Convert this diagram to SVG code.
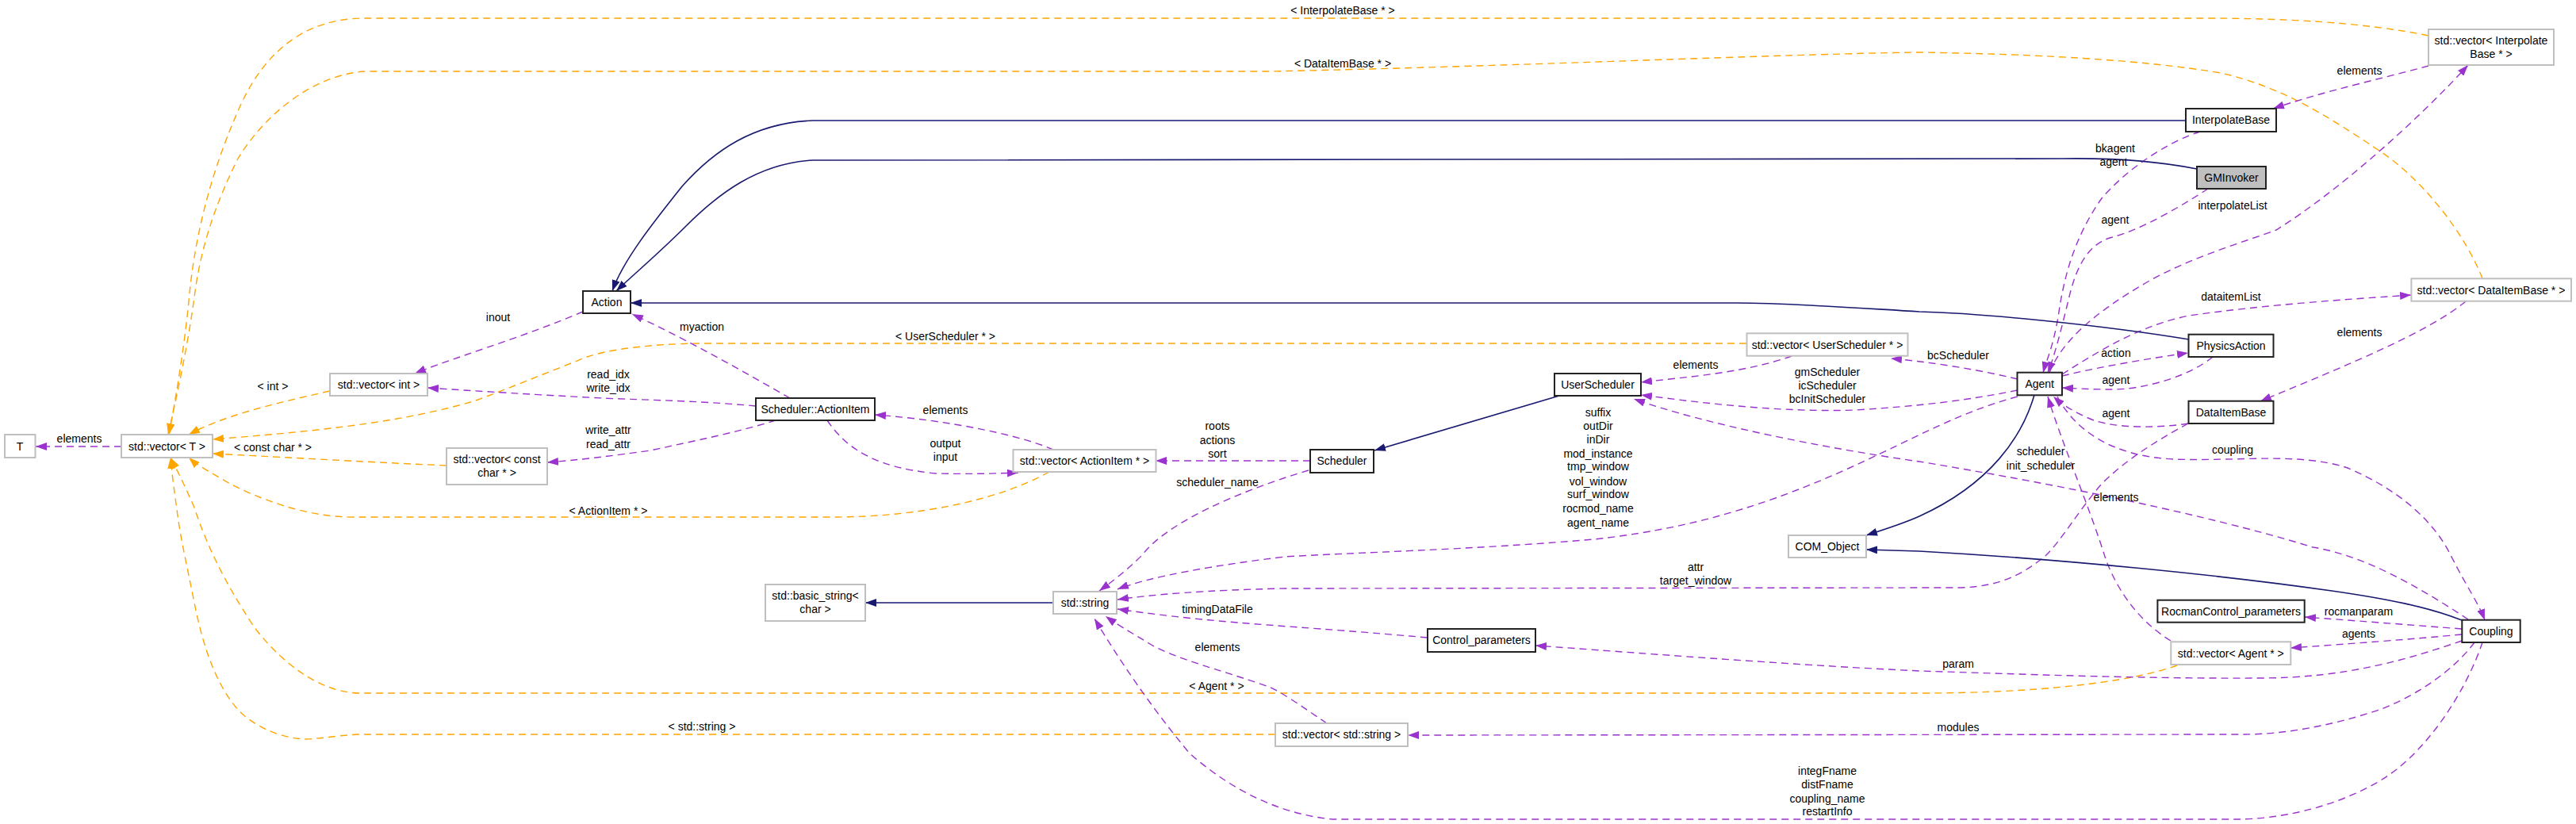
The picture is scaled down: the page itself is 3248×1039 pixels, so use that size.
<svg xmlns="http://www.w3.org/2000/svg" width="3248" height="1039" viewBox="0 0 3248 1039">
<style>
text{font-family:"Liberation Sans",Arial,sans-serif;font-size:14px;fill:#000;text-anchor:middle}
.n rect{fill:#fff;stroke:#222;stroke-width:2}
.u rect{fill:#fff;stroke:#bfbfbf;stroke-width:2}
.g rect{fill:#bfbfbf;stroke:#222;stroke-width:2}
.mem{fill:none;stroke:#9a32cd;stroke-width:1.4;stroke-dasharray:9,6;marker-end:url(#ap)}
.tpl{fill:none;stroke:#ffa500;stroke-width:1.4;stroke-dasharray:9,6;marker-end:url(#ao)}
.inh{fill:none;stroke:#191970;stroke-width:1.6;marker-end:url(#an)}
</style>
<defs>
<marker id="ap" viewBox="0 0 14 10" refX="14" refY="5" markerWidth="14" markerHeight="10" markerUnits="userSpaceOnUse" orient="auto"><path d="M0,0 L14,5 L0,10 z" fill="#9a32cd" stroke="none"/></marker>
<marker id="ao" viewBox="0 0 14 10" refX="14" refY="5" markerWidth="14" markerHeight="10" markerUnits="userSpaceOnUse" orient="auto"><path d="M0,0 L14,5 L0,10 z" fill="#ffa500" stroke="none"/></marker>
<marker id="an" viewBox="0 0 14 10" refX="14" refY="5" markerWidth="14" markerHeight="10" markerUnits="userSpaceOnUse" orient="auto"><path d="M0,0 L14,5 L0,10 z" fill="#191970" stroke="none"/></marker>
</defs>
<rect width="3248" height="1039" fill="#fff"/>
<g id="connectors">
<path class="tpl" d="M3062,45 C2980,28 2880,23 2780,23 L460,23 C380,23 330,70 300,140 C265,220 245,300 238,380 C232,440 222,500 213,548"/>
<path class="tpl" d="M3130,351 C3110,300 3060,230 3000,190 C2940,150 2880,110 2800,92 C2700,75 2560,68 2420,66 C2250,68 1900,84 1600,90 L460,90 C390,95 330,150 300,200 C270,260 255,310 247,360 C238,430 225,490 212,548"/>
<path class="tpl" d="M416,493 C340,510 280,525 238,548"/>
<path class="tpl" d="M2202,433 L880,433 C820,434 770,440 740,450 C690,470 640,490 600,505 C500,535 380,545 268,554"/>
<path class="tpl" d="M563,587 C450,582 350,576 268,572"/>
<path class="tpl" d="M1323,595 C1260,630 1160,652 1050,652 L445,652 C380,652 320,625 290,610 C270,598 250,588 238,577"/>
<path class="tpl" d="M2745,839 C2680,862 2560,874 2420,874 L455,874 C400,874 350,830 320,790 C280,730 258,680 245,640 C232,610 222,590 215,577"/>
<path class="tpl" d="M1608,926 L450,926 C420,928 400,932 384,932 C350,930 320,915 300,895 C270,860 255,810 245,760 C235,710 228,680 224,650 C220,620 217,600 215,577"/>
<path class="mem" d="M153,563 L45,563"/>
<path class="mem" d="M735,393 C660,425 560,455 523,471"/>
<path class="mem" d="M953,512 C880,505 800,504 760,502 C680,498 600,493 539,489"/>
<path class="mem" d="M978,530 C930,545 880,555 820,568 C770,575 730,580 690,583"/>
<path class="mem" d="M996,502 C940,470 870,430 797,396"/>
<path class="mem" d="M1328,567 C1290,550 1200,530 1103,523"/>
<path class="mem" d="M1043,530 C1070,570 1110,590 1180,597 C1220,598 1260,597 1284,596"/>
<path class="mem" d="M1652,581 L1457,581"/>
<path class="mem" d="M1650,593 C1560,620 1470,660 1440,700 C1420,720 1400,735 1386,745"/>
<path class="mem" d="M2259,449 C2200,470 2130,475 2069,482"/>
<path class="mem" d="M2544,478 C2490,465 2430,456 2384,452"/>
<path class="mem" d="M2544,492 C2480,505 2420,512 2340,517 C2250,520 2160,510 2069,498"/>
<path class="mem" d="M3112,781 C3050,740 2980,700 2916,690 C2820,660 2650,620 2420,582 C2300,565 2150,535 2060,503"/>
<path class="mem" d="M2544,500 C2470,520 2420,550 2332,590 C2200,650 2100,670 2010,680 C1860,693 1700,697 1620,702 C1530,713 1450,727 1409,743"/>
<path class="mem" d="M2600,474 C2650,462 2710,452 2759,445"/>
<path class="mem" d="M2790,450 C2760,475 2700,492 2660,491 C2640,491 2620,490 2600,489"/>
<path class="mem" d="M2759,534 C2720,540 2670,540 2640,530 C2615,520 2600,510 2589,500"/>
<path class="mem" d="M2594,500 C2615,540 2660,575 2740,579 C2820,582 2900,570 2960,590 C3030,620 3070,660 3090,700 C3110,740 3125,760 3133,782"/>
<path class="mem" d="M2737,808 C2700,785 2672,750 2655,705 C2635,640 2600,560 2582,500"/>
<path class="mem" d="M2774,166 C2730,180 2680,215 2650,250 C2615,300 2602,350 2595,400 C2588,440 2580,455 2576,470"/>
<path class="mem" d="M2784,238 C2750,260 2700,290 2660,300 C2630,310 2618,340 2610,370 C2598,420 2590,450 2582,470"/>
<path class="mem" d="M2584,470 C2600,430 2640,395 2705,357 C2760,325 2830,305 2870,290 C2950,240 3050,150 3112,82"/>
<path class="mem" d="M2600,472 C2650,440 2700,410 2760,398 C2850,385 2950,378 3040,372"/>
<path class="mem" d="M3062,83 C3000,100 2930,115 2866,137"/>
<path class="mem" d="M3109,380 C3060,420 2960,460 2850,506"/>
<path class="mem" d="M2759,534 C2720,555 2680,580 2650,610 C2620,645 2600,680 2580,700 C2550,725 2520,740 2470,741 L1620,742 C1520,744 1450,750 1409,756"/>
<path class="mem" d="M1800,804 C1700,795 1620,790 1560,785 C1500,780 1450,774 1409,768"/>
<path class="mem" d="M1673,912 C1640,890 1620,875 1600,866 C1540,845 1480,830 1450,812 C1425,797 1405,785 1394,777"/>
<path class="mem" d="M3130,810 C3110,870 3060,950 3000,985 C2940,1020 2870,1033 2820,1033 L1680,1033 C1600,1025 1540,985 1500,950 C1450,890 1410,830 1380,780"/>
<path class="mem" d="M3104,793 C3040,788 2960,782 2906,778"/>
<path class="mem" d="M3104,800 C3040,806 2960,812 2888,817"/>
<path class="mem" d="M3104,808 C3040,830 2960,855 2850,855 C2700,856 2550,850 2420,846 C2250,838 2050,822 1936,814"/>
<path class="mem" d="M3120,810 C3090,850 3040,880 3000,895 C2940,915 2880,926 2830,926 L1775,927"/>
<path class="inh" d="M2756,152 L1025,152 C950,155 900,190 860,235 C820,285 785,330 772,367"/>
<path class="inh" d="M2770,213 C2720,203 2660,199 2600,200 L1025,202 C955,206 905,245 865,285 C830,320 800,345 777,367"/>
<path class="inh" d="M2760,428 C2650,410 2500,395 2420,393 C2320,387 2250,382 2191,382 L795,382"/>
<path class="inh" d="M1966,499 L1733,568"/>
<path class="inh" d="M2565,498 C2550,550 2510,610 2420,651 C2400,660 2375,668 2353,675"/>
<path class="inh" d="M3104,782 C3060,765 3010,755 2940,745 C2800,725 2600,705 2420,695 L2353,693"/>
<path class="inh" d="M1328,760 L1091,760"/>
<g id="edge-labels">
<text x="1693" y="18">&lt; InterpolateBase * &gt;</text>
<text x="1693" y="85">&lt; DataItemBase * &gt;</text>
<text x="344" y="492">&lt; int &gt;</text>
<text x="1192" y="429">&lt; UserScheduler * &gt;</text>
<text x="344" y="569">&lt; const char * &gt;</text>
<text x="767" y="649">&lt; ActionItem * &gt;</text>
<text x="1534" y="870">&lt; Agent * &gt;</text>
<text x="885" y="921">&lt; std::string &gt;</text>
<text x="100" y="558">elements</text>
<text x="628" y="405">inout</text>
<text x="767" y="477">read_idx</text>
<text x="767" y="494">write_idx</text>
<text x="767" y="547">write_attr</text>
<text x="767" y="565">read_attr</text>
<text x="885" y="417">myaction</text>
<text x="1192" y="522">elements</text>
<text x="1192" y="564">output</text>
<text x="1192" y="581">input</text>
<text x="1535" y="542">roots</text>
<text x="1535" y="560">actions</text>
<text x="1535" y="577">sort</text>
<text x="1535" y="613">scheduler_name</text>
<text x="2138" y="465">elements</text>
<text x="2469" y="453">bcScheduler</text>
<text x="2304" y="474">gmScheduler</text>
<text x="2304" y="491">icScheduler</text>
<text x="2304" y="508">bcInitScheduler</text>
<text x="2015" y="525">suffix</text>
<text x="2015" y="542">outDir</text>
<text x="2015" y="559">inDir</text>
<text x="2015" y="577">mod_instance</text>
<text x="2015" y="593">tmp_window</text>
<text x="2015" y="612">vol_window</text>
<text x="2015" y="628">surf_window</text>
<text x="2015" y="646">rocmod_name</text>
<text x="2015" y="664">agent_name</text>
<text x="2573" y="574">scheduler</text>
<text x="2573" y="592">init_scheduler</text>
<text x="2668" y="450">action</text>
<text x="2668" y="484">agent</text>
<text x="2668" y="526">agent</text>
<text x="2815" y="572">coupling</text>
<text x="2668" y="632">elements</text>
<text x="2813" y="379">dataitemList</text>
<text x="2975" y="424">elements</text>
<text x="2975" y="94">elements</text>
<text x="2667" y="192">bkagent</text>
<text x="2665" y="209">agent</text>
<text x="2667" y="282">agent</text>
<text x="2815" y="264">interpolateList</text>
<text x="2138" y="720">attr</text>
<text x="2138" y="737">target_window</text>
<text x="1535" y="773">timingDataFile</text>
<text x="1535" y="821">elements</text>
<text x="2974" y="776">rocmanparam</text>
<text x="2974" y="804">agents</text>
<text x="2469" y="842">param</text>
<text x="2469" y="922">modules</text>
<text x="2304" y="977">integFname</text>
<text x="2304" y="994">distFname</text>
<text x="2304" y="1012">coupling_name</text>
<text x="2304" y="1028">restartInfo</text>
</g>
</g>
<g id="T" class="u"><rect x="6" y="548" width="38.5" height="29"/><text x="25" y="568">T</text></g>
<g id="vector_T" class="u"><rect x="153" y="548" width="115" height="29"/><text x="210.5" y="568">std::vector&lt; T &gt;</text></g>
<g id="vector_int" class="u"><rect x="416" y="471" width="123" height="28"/><text x="477.5" y="490">std::vector&lt; int &gt;</text></g>
<g id="vector_constchar" class="u"><rect x="563" y="565" width="127" height="46"/><text x="626.5" y="584">std::vector&lt; const</text><text x="626.5" y="601">char * &gt;</text></g>
<g id="Action" class="n"><rect x="735" y="367" width="60" height="28"/><text x="765" y="386">Action</text></g>
<g id="ActionItem" class="n"><rect x="953" y="502" width="150" height="28"/><text x="1028" y="521">Scheduler::ActionItem</text></g>
<g id="vector_ActionItem" class="u"><rect x="1277.5" y="567" width="180" height="28"/><text x="1367.5" y="586">std::vector&lt; ActionItem * &gt;</text></g>
<g id="Scheduler" class="n"><rect x="1652" y="567" width="80" height="29"/><text x="1692" y="586">Scheduler</text></g>
<g id="UserScheduler" class="n"><rect x="1960" y="471" width="109" height="28"/><text x="2014.5" y="490">UserScheduler</text></g>
<g id="vector_UserScheduler" class="u"><rect x="2202.5" y="420.3" width="203" height="28.4"/><text x="2304" y="439.5">std::vector&lt; UserScheduler * &gt;</text></g>
<g id="COM_Object" class="u"><rect x="2255" y="675" width="98" height="28"/><text x="2304" y="694">COM_Object</text></g>
<g id="basic_string" class="u"><rect x="965" y="737" width="126" height="46"/><text x="1028" y="756">std::basic_string&lt;</text><text x="1028" y="773">char &gt;</text></g>
<g id="std_string" class="u"><rect x="1328" y="746" width="80" height="28"/><text x="1368" y="765">std::string</text></g>
<g id="Control_parameters" class="n"><rect x="1800" y="793" width="136" height="29"/><text x="1868" y="812">Control_parameters</text></g>
<g id="vector_string" class="u"><rect x="1608" y="912" width="167" height="29"/><text x="1691.5" y="931">std::vector&lt; std::string &gt;</text></g>
<g id="InterpolateBase" class="n"><rect x="2756" y="137" width="114" height="29"/><text x="2813" y="156">InterpolateBase</text></g>
<g id="GMInvoker" class="g"><rect x="2770" y="210" width="87" height="28"/><text x="2813.5" y="229">GMInvoker</text></g>
<g id="vector_InterpolateBase" class="u"><rect x="3062" y="37" width="158" height="45"/><text x="3141" y="56">std::vector&lt; Interpolate</text><text x="3141" y="73">Base * &gt;</text></g>
<g id="PhysicsAction" class="n"><rect x="2759.5" y="421.7" width="107" height="28.3"/><text x="2813" y="441">PhysicsAction</text></g>
<g id="Agent" class="n"><rect x="2543.5" y="469.7" width="56.5" height="28.6"/><text x="2571.7" y="489">Agent</text></g>
<g id="DataItemBase" class="n"><rect x="2759.5" y="505.7" width="107" height="28.3"/><text x="2813" y="525">DataItemBase</text></g>
<g id="vector_DataItemBase" class="u"><rect x="3040.4" y="351.3" width="201.6" height="28.4"/><text x="3141" y="370.5">std::vector&lt; DataItemBase * &gt;</text></g>
<g id="RocmanControl_parameters" class="n"><rect x="2720.4" y="756.7" width="185.3" height="28"/><text x="2813" y="776">RocmanControl_parameters</text></g>
<g id="vector_Agent" class="u"><rect x="2737.3" y="809.3" width="151" height="28.7"/><text x="2812.8" y="829">std::vector&lt; Agent * &gt;</text></g>
<g id="Coupling" class="n"><rect x="3104.3" y="781.7" width="73.4" height="28.3"/><text x="3141" y="801">Coupling</text></g>
</svg>
